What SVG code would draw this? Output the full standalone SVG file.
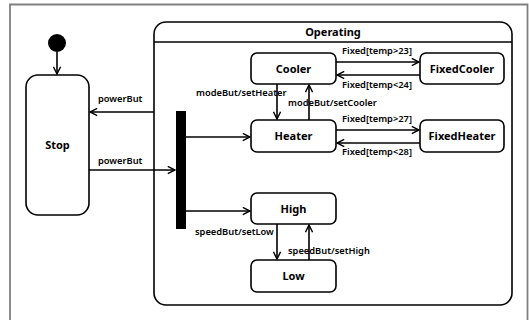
<svg xmlns="http://www.w3.org/2000/svg" width="529" height="320" viewBox="0 0 529 320">
  <defs>
    <marker id="arr" viewBox="0 0 10 10" refX="9" refY="5" markerWidth="9" markerHeight="9" markerUnits="userSpaceOnUse" orient="auto">
      <path d="M1,1 L9,5 L1,9" fill="none" stroke="#000" stroke-width="1.6"/>
    </marker>
    <style>
      .st { fill: #fff; stroke: #000; stroke-width: 1.6; }
      .name { font-family: "Noto Sans", "Open Sans", sans-serif; font-size: 11px; font-weight: bold; fill: #000; text-anchor: middle; }
      .lbl { font-family: "Noto Sans", "Open Sans", sans-serif; font-size: 9.3px; font-weight: 600; fill: #000; }
      .edge { fill: none; stroke: #000; stroke-width: 1.6; marker-end: url(#arr); }
    </style>
  </defs>

  <rect width="529" height="320" fill="#fff"/>
  <!-- outer frame -->
  <path d="M10,320 L10,4.5 L527.5,4.5 L527.5,320" fill="none" stroke="#808080" stroke-width="1.8"/>

  <!-- initial pseudo-state -->
  <g id="initial">
    <circle cx="57" cy="43" r="9" fill="#000"/>
  </g>

  <g id="stop">
    <rect class="st" x="26" y="75" width="63" height="140" rx="12"/>
    <text class="name" x="57.5" y="149">Stop</text>
  </g>

  <g id="operating">
    <rect class="st" x="154" y="22" width="358" height="283" rx="12"/>
    <line x1="154" y1="42" x2="512" y2="42" stroke="#000" stroke-width="1.6"/>
    <text class="name" x="333" y="36">Operating</text>
  </g>

  <g id="fork">
    <rect x="176" y="111" width="10" height="118" fill="#000"/>
  </g>

  <g id="cooler">
    <rect class="st" x="251" y="53" width="85" height="31" rx="6"/>
    <text class="name" x="293.5" y="73">Cooler</text>
  </g>
  <g id="fixedCooler">
    <rect class="st" x="420" y="53" width="84" height="31" rx="6"/>
    <text class="name" x="462" y="73">FixedCooler</text>
  </g>
  <g id="heater">
    <rect class="st" x="251" y="120" width="85" height="32" rx="6"/>
    <text class="name" x="293.5" y="140">Heater</text>
  </g>
  <g id="fixedHeater">
    <rect class="st" x="420" y="120" width="84" height="32" rx="6"/>
    <text class="name" x="462" y="140">FixedHeater</text>
  </g>
  <g id="high">
    <rect class="st" x="251" y="193" width="85" height="31" rx="6"/>
    <text class="name" x="293.5" y="213">High</text>
  </g>
  <g id="low">
    <rect class="st" x="251" y="260" width="85" height="32" rx="6"/>
    <text class="name" x="293.5" y="280">Low</text>
  </g>

  <g id="connectors">
    <line class="edge" x1="57" y1="52" x2="57" y2="74"/>
    <line class="edge" x1="154" y1="112" x2="90" y2="112"/>
    <line class="edge" x1="89" y1="170" x2="175" y2="170"/>
    <line class="edge" x1="186" y1="137" x2="250" y2="137"/>
    <line class="edge" x1="186" y1="211" x2="250" y2="211"/>
    <line class="edge" x1="277" y1="84" x2="277" y2="119"/>
    <line class="edge" x1="309" y1="120" x2="309" y2="85"/>
    <line class="edge" x1="336" y1="62" x2="419" y2="62"/>
    <line class="edge" x1="420" y1="75" x2="337" y2="75"/>
    <line class="edge" x1="336" y1="130" x2="419" y2="130"/>
    <line class="edge" x1="420" y1="143" x2="337" y2="143"/>
    <line class="edge" x1="277" y1="224" x2="277" y2="259"/>
    <line class="edge" x1="309" y1="260" x2="309" y2="225"/>

    <text class="lbl" x="98" y="102">powerBut</text>
    <text class="lbl" x="98" y="164">powerBut</text>
    <text class="lbl" x="196" y="96">modeBut/setHeater</text>
    <text class="lbl" x="288" y="106">modeBut/setCooler</text>
    <text class="lbl" x="342" y="54">Fixed[temp&gt;23]</text>
    <text class="lbl" x="342" y="88">Fixed[temp&lt;24]</text>
    <text class="lbl" x="342" y="122">Fixed[temp&gt;27]</text>
    <text class="lbl" x="342" y="155">Fixed[temp&lt;28]</text>
    <text class="lbl" x="195" y="235">speedBut/setLow</text>
    <text class="lbl" x="288" y="254">speedBut/setHigh</text>
  </g>
</svg>
